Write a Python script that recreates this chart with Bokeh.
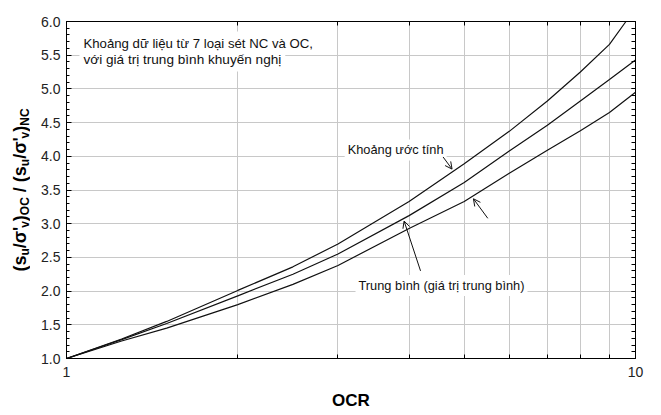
import math
from bokeh.plotting import figure
from bokeh.layouts import row
from bokeh.models import (FixedTicker, LogAxis, LinearAxis, Label, Arrow, OpenHead,
                          Range1d, PrintfTickFormatter, ColumnDataSource)
from bokeh.core.properties import value
from bokeh.embed import file_html
from bokeh.resources import INLINE

# ---- data ----
ocr = [1.0, 1.25, 1.5, 2.0, 2.5, 3.0, 4.0, 5.0, 6.0, 7.0, 8.0, 9.0, 10.0]
lower = [1.0, 1.26, 1.45, 1.80, 2.10, 2.38, 2.93, 3.33, 3.75, 4.09, 4.38, 4.65, 4.95]
mean = [1.0, 1.28, 1.52, 1.93, 2.25, 2.55, 3.12, 3.61, 4.08, 4.46, 4.82, 5.14, 5.43]
upper_ocr = [1.0, 1.25, 1.5, 2.0, 2.5, 3.0, 4.0, 5.0, 6.0, 7.0, 8.0, 9.0, 9.62]
upper = [1.0, 1.29, 1.55, 2.01, 2.36, 2.70, 3.33, 3.89, 4.37, 4.82, 5.25, 5.66, 6.0]

x_ticks = [1, 10]
x_tick_labels = ["1", "10"]
x_minor = [2, 3, 4, 5, 6, 7, 8, 9]
y_ticks = [1.0, 1.5, 2.0, 2.5, 3.0, 3.5, 4.0, 4.5, 5.0, 5.5, 6.0]
y_tick_labels = ["1.0", "1.5", "2.0", "2.5", "3.0", "3.5", "4.0", "4.5", "5.0", "5.5", "6.0"]
y_minor = [round(1.0 + 0.1 * i, 1) for i in range(51)]

FONT = "Liberation Sans"
GRID = "#c8c8c8"
INK = "#111111"

LW = 30            # width of the strip holding the y-axis title
H = 415
W = 661 - LW
TOP, BOTTOM = 21, 358   # frame edges in page pixels

p = figure(width=W, height=H, x_axis_type="log",
           x_range=Range1d(1, 10), y_range=Range1d(1, 6),
           output_backend="svg", toolbar_location=None,
           min_border_left=66 - LW, min_border_right=661 - 635, min_border_top=TOP,
           min_border_bottom=H - BOTTOM)
p.background_fill_color = "white"
p.outline_line_color = "black"
p.outline_line_width = 1

xt = FixedTicker(ticks=x_ticks, minor_ticks=x_minor)
yt = FixedTicker(ticks=y_ticks, minor_ticks=y_minor)

xa = p.xaxis[0]
xa.ticker = xt
xa.formatter = PrintfTickFormatter(format="%d")
xa.major_label_overrides = dict(zip(x_ticks, x_tick_labels))
xa.major_tick_in = 0
xa.major_tick_out = 0
xa.minor_tick_in = 4
xa.minor_tick_out = 0
xa.major_label_standoff = 8
xa.major_label_text_font = FONT
xa.major_label_text_font_size = "14px"
xa.major_label_text_color = "#222222"
xa.axis_label = "OCR"
xa.axis_label_text_font = FONT
xa.axis_label_text_font_size = "17px"
xa.axis_label_text_font_style = "bold"
xa.axis_label_text_color = "black"
xa.axis_label_standoff = 11
xa.axis_line_color = "black"

ya = p.yaxis[0]
ya.ticker = yt
ya.formatter = PrintfTickFormatter(format="%.1f")
ya.major_label_overrides = dict(zip(y_ticks, y_tick_labels))
ya.major_tick_in = 5
ya.major_tick_out = 0
ya.minor_tick_in = 3
ya.minor_tick_out = 0
ya.major_label_standoff = 6
ya.major_label_text_font = FONT
ya.major_label_text_font_size = "14px"
ya.major_label_text_color = "#222222"
ya.axis_line_color = "black"

ra = LinearAxis(ticker=yt, major_label_overrides={t: "" for t in y_ticks},
                major_label_text_font_size="0px", major_label_standoff=0,
                major_tick_in=4, major_tick_out=0, minor_tick_in=4, minor_tick_out=0,
                axis_line_color="black")
p.add_layout(ra, "right")
ta = LogAxis(ticker=xt, major_label_overrides={t: "" for t in x_ticks},
             major_label_text_font_size="0px", major_label_standoff=0,
             major_tick_in=0, major_tick_out=0, minor_tick_in=4, minor_tick_out=0,
             axis_line_color="black")
p.add_layout(ta, "above")

p.xgrid.grid_line_color = GRID
p.xgrid.minor_grid_line_color = GRID
p.ygrid.grid_line_color = GRID
p.ygrid.minor_grid_line_color = None

p.line(ocr, lower, line_color=INK, line_width=1.2)
p.line(ocr, mean, line_color=INK, line_width=1.2)
p.line(upper_ocr, upper, line_color=INK, line_width=1.2)

# ---- annotations ----
def note(x, y, text, size="13px", pad=2):
    lab = Label(x=x, y=y, text=text, text_font=FONT, text_font_size=size,
                text_color=INK, text_baseline="alphabetic", text_align="left",
                x_offset=-pad, y_offset=pad,
                background_fill_color="white", padding=pad)
    p.add_layout(lab)

note(1.071, 5.37, "với giá trị trung bình khuyến nghị", "13.6px", 4)
note(1.071, 5.62, "Khoảng dữ liệu từ 7 loại sét NC và OC,", "13.2px", 4)
note(3.12, 4.05, "Khoảng ước tính", "12.8px", 3)
note(3.26, 2.04, "Trung bình (giá trị trung bình)", "12.8px", 3)

for xs, ys, xe, ye in [(4.59, 3.99, 4.76, 3.81), (5.50, 3.08, 5.19, 3.37), (4.19, 2.30, 3.92, 3.04)]:
    p.add_layout(Arrow(end=OpenHead(size=7, line_width=1, line_color=INK),
                       x_start=xs, y_start=ys, x_end=xe, y_end=ye,
                       line_width=1, line_color=INK))

# ---- rotated y-axis title with subscripts, in its own strip ----
ADV = {"(": 333, ")": 333, "s": 556, "u": 611, "v": 556, "/": 278, " ": 278,
       "O": 778, "C": 722, "N": 722, "'": 238, "σ": 620}
BIG, SMALL = 18.0, 12.0
pieces = [("(s", 0), ("u", 1), ("/σ'", 0), ("v", 1), (")", 0), ("OC", 1), (" ", 0),
          ("/ (s", 0), ("u", 1), ("/σ'", 0), ("v", 1), (")", 0), ("NC", 1)]

def adv(t, size):
    return sum(ADV[c] for c in t) * size / 1000.0

# strip frame coincides with the main frame vertically; 1 data unit = 1 pixel
lf = figure(width=LW, height=H, x_range=Range1d(0, LW), y_range=Range1d(H - BOTTOM, H - TOP),
            output_backend="svg", toolbar_location=None,
            min_border=0, min_border_left=0, min_border_right=0,
            min_border_top=TOP, min_border_bottom=H - BOTTOM)
lf.axis.visible = False
lf.grid.visible = False
lf.outline_line_color = None
lf.background_fill_color = "white"
lf.border_fill_color = "white"

total = sum(adv(t, SMALL if s else BIG) for t, s in pieces)
center = H - (TOP + BOTTOM) / 2.0
cursor = center - total / 2.0
big = dict(x=[], y=[], text=[])
small = dict(x=[], y=[], text=[])
for t, s in pieces:
    size = SMALL if s else BIG
    if t.strip():
        d = small if s else big
        d["x"].append(19.5 + (4.5 if s else 0))
        d["y"].append(cursor)
        d["text"].append(t)
    cursor += adv(t, size)

for d, size in [(big, BIG), (small, SMALL)]:
    lf.text(x="x", y="y", text="text", source=ColumnDataSource(d), angle=math.pi / 2,
            text_font=value(FONT), text_font_size=value(f"{size}px"),
            text_font_style="bold", text_color="black",
            text_baseline="alphabetic", text_align="left")

layout = row(lf, p)
open("out.html", "w").write(file_html(layout, INLINE))
